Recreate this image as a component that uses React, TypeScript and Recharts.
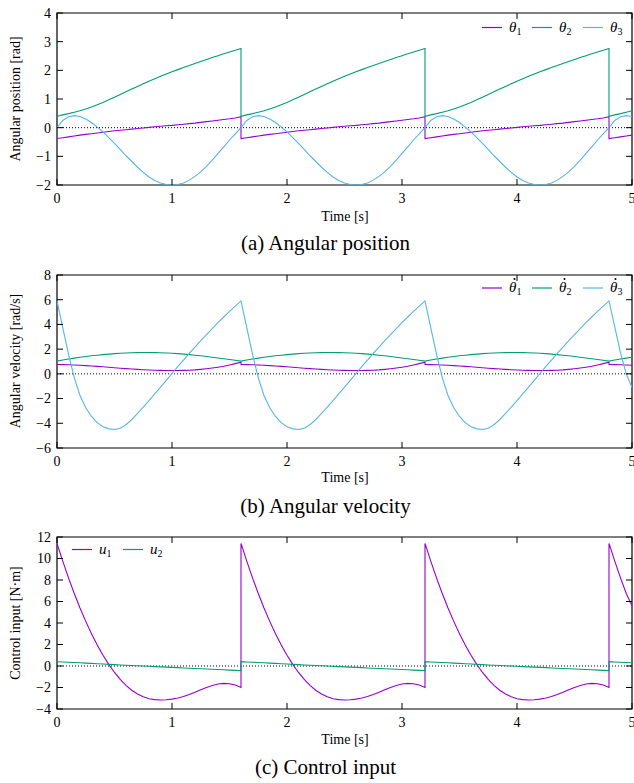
import React from "react";
import {
  LineChart,
  Line,
  XAxis,
  YAxis,
  ReferenceLine,
  ReferenceArea,
} from "recharts";

// time samples (0.05 s); the switching instants 1.6 / 3.2 / 4.8 s appear twice
const time = [
  0, 0.05, 0.1, 0.15, 0.2, 0.25, 0.3, 0.35, 0.4, 0.45, 0.5, 0.55, 0.6, 0.65, 0.7, 0.75, 0.8,
  0.85, 0.9, 0.95, 1.0, 1.05, 1.1, 1.15, 1.2, 1.25, 1.3, 1.35, 1.4, 1.45, 1.5, 1.55, 1.6,
  1.6, 1.65, 1.7, 1.75, 1.8, 1.85, 1.9, 1.95, 2.0, 2.05, 2.1, 2.15, 2.2, 2.25, 2.3, 2.35, 2.4,
  2.45, 2.5, 2.55, 2.6, 2.65, 2.7, 2.75, 2.8, 2.85, 2.9, 2.95, 3.0, 3.05, 3.1, 3.15, 3.2,
  3.2, 3.25, 3.3, 3.35, 3.4, 3.45, 3.5, 3.55, 3.6, 3.65, 3.7, 3.75, 3.8, 3.85, 3.9, 3.95, 4.0,
  4.05, 4.1, 4.15, 4.2, 4.25, 4.3, 4.35, 4.4, 4.45, 4.5, 4.55, 4.6, 4.65, 4.7, 4.75, 4.8,
  4.8, 4.85, 4.9, 4.95, 5.0,
];
const xTicks = [0, 1, 2, 3, 4, 5];

// (a) angular position [rad]
const theta1 = [
  -0.38, -0.35, -0.32, -0.29, -0.26, -0.235, -0.21, -0.185, -0.16, -0.135, -0.11, -0.09, -0.07, -0.05, -0.03, -0.01, 0.01,
  0.03, 0.05, 0.065, 0.08, 0.1, 0.12, 0.14, 0.16, 0.185, 0.21, 0.235, 0.26, 0.285, 0.31, 0.34, 0.38,
  -0.38, -0.35, -0.32, -0.29, -0.26, -0.235, -0.21, -0.185, -0.16, -0.135, -0.11, -0.09, -0.07, -0.05, -0.03, -0.01, 0.01,
  0.03, 0.05, 0.065, 0.08, 0.1, 0.12, 0.14, 0.16, 0.185, 0.21, 0.235, 0.26, 0.285, 0.31, 0.34, 0.38,
  -0.38, -0.35, -0.32, -0.29, -0.26, -0.235, -0.21, -0.185, -0.16, -0.135, -0.11, -0.09, -0.07, -0.05, -0.03, -0.01, 0.01,
  0.03, 0.05, 0.065, 0.08, 0.1, 0.12, 0.14, 0.16, 0.185, 0.21, 0.235, 0.26, 0.285, 0.31, 0.34, 0.38,
  -0.38, -0.35, -0.32, -0.29, -0.26,
];
const theta2 = [
  0.4, 0.445, 0.49, 0.54, 0.59, 0.65, 0.72, 0.8, 0.88, 0.97, 1.06, 1.155, 1.25, 1.345, 1.44, 1.53, 1.62,
  1.705, 1.79, 1.87, 1.95, 2.025, 2.1, 2.17, 2.24, 2.31, 2.38, 2.445, 2.51, 2.575, 2.64, 2.7, 2.76,
  0.4, 0.445, 0.49, 0.54, 0.59, 0.65, 0.72, 0.8, 0.88, 0.97, 1.06, 1.155, 1.25, 1.345, 1.44, 1.53, 1.62,
  1.705, 1.79, 1.87, 1.95, 2.025, 2.1, 2.17, 2.24, 2.31, 2.38, 2.445, 2.51, 2.575, 2.64, 2.7, 2.76,
  0.4, 0.445, 0.49, 0.54, 0.59, 0.65, 0.72, 0.8, 0.88, 0.97, 1.06, 1.155, 1.25, 1.345, 1.44, 1.53, 1.62,
  1.705, 1.79, 1.87, 1.95, 2.025, 2.1, 2.17, 2.24, 2.31, 2.38, 2.445, 2.51, 2.575, 2.64, 2.7, 2.76,
  0.4, 0.445, 0.49, 0.54, 0.59,
];
const theta3 = [
  0.0, 0.25, 0.38, 0.42, 0.39, 0.3, 0.18, 0.02, -0.15, -0.35, -0.55, -0.76, -0.98, -1.18, -1.38, -1.56, -1.72,
  -1.84, -1.93, -1.98, -2.0, -1.98, -1.93, -1.83, -1.7, -1.54, -1.35, -1.13, -0.9, -0.67, -0.43, -0.22, 0.0,
  0.0, 0.25, 0.38, 0.42, 0.39, 0.3, 0.18, 0.02, -0.15, -0.35, -0.55, -0.76, -0.98, -1.18, -1.38, -1.56, -1.72,
  -1.84, -1.93, -1.98, -2.0, -1.98, -1.93, -1.83, -1.7, -1.54, -1.35, -1.13, -0.9, -0.67, -0.43, -0.22, 0.0,
  0.0, 0.25, 0.38, 0.42, 0.39, 0.3, 0.18, 0.02, -0.15, -0.35, -0.55, -0.76, -0.98, -1.18, -1.38, -1.56, -1.72,
  -1.84, -1.93, -1.98, -2.0, -1.98, -1.93, -1.83, -1.7, -1.54, -1.35, -1.13, -0.9, -0.67, -0.43, -0.22, 0.0,
  0.0, 0.25, 0.38, 0.42, 0.39,
];
const posTicks = [-2, -1, 0, 1, 2, 3, 4];

// (b) angular velocity [rad/s]
const dtheta1 = [
  0.76, 0.75, 0.74, 0.72, 0.7, 0.67, 0.64, 0.605, 0.57, 0.53, 0.49, 0.455, 0.42, 0.39, 0.36, 0.335, 0.31,
  0.295, 0.28, 0.272, 0.27, 0.272, 0.28, 0.295, 0.32, 0.36, 0.41, 0.47, 0.54, 0.62, 0.72, 0.83, 0.95,
  0.76, 0.75, 0.74, 0.72, 0.7, 0.67, 0.64, 0.605, 0.57, 0.53, 0.49, 0.455, 0.42, 0.39, 0.36, 0.335, 0.31,
  0.295, 0.28, 0.272, 0.27, 0.272, 0.28, 0.295, 0.32, 0.36, 0.41, 0.47, 0.54, 0.62, 0.72, 0.83, 0.95,
  0.76, 0.75, 0.74, 0.72, 0.7, 0.67, 0.64, 0.605, 0.57, 0.53, 0.49, 0.455, 0.42, 0.39, 0.36, 0.335, 0.31,
  0.295, 0.28, 0.272, 0.27, 0.272, 0.28, 0.295, 0.32, 0.36, 0.41, 0.47, 0.54, 0.62, 0.72, 0.83, 0.95,
  0.76, 0.75, 0.74, 0.72, 0.7,
];
const dtheta2 = [
  1.03, 1.12, 1.2, 1.27, 1.34, 1.4, 1.46, 1.51, 1.56, 1.6, 1.64, 1.67, 1.69, 1.71, 1.72, 1.73, 1.73,
  1.72, 1.71, 1.69, 1.67, 1.64, 1.6, 1.56, 1.51, 1.46, 1.4, 1.34, 1.28, 1.22, 1.16, 1.1, 1.03,
  1.03, 1.12, 1.2, 1.27, 1.34, 1.4, 1.46, 1.51, 1.56, 1.6, 1.64, 1.67, 1.69, 1.71, 1.72, 1.73, 1.73,
  1.72, 1.71, 1.69, 1.67, 1.64, 1.6, 1.56, 1.51, 1.46, 1.4, 1.34, 1.28, 1.22, 1.16, 1.1, 1.03,
  1.03, 1.12, 1.2, 1.27, 1.34, 1.4, 1.46, 1.51, 1.56, 1.6, 1.64, 1.67, 1.69, 1.71, 1.72, 1.73, 1.73,
  1.72, 1.71, 1.69, 1.67, 1.64, 1.6, 1.56, 1.51, 1.46, 1.4, 1.34, 1.28, 1.22, 1.16, 1.1, 1.03,
  1.03, 1.12, 1.2, 1.27, 1.34,
];
const dtheta3 = [
  5.9, 3.75, 1.6, -0.3, -1.75, -2.75, -3.45, -3.95, -4.28, -4.45, -4.5, -4.4, -4.12, -3.7, -3.2, -2.7, -2.17,
  -1.62, -1.07, -0.52, 0.03, 0.58, 1.12, 1.65, 2.17, 2.68, 3.18, 3.67, 4.14, 4.6, 5.05, 5.48, 5.9,
  5.9, 3.75, 1.6, -0.3, -1.75, -2.75, -3.45, -3.95, -4.28, -4.45, -4.5, -4.4, -4.12, -3.7, -3.2, -2.7, -2.17,
  -1.62, -1.07, -0.52, 0.03, 0.58, 1.12, 1.65, 2.17, 2.68, 3.18, 3.67, 4.14, 4.6, 5.05, 5.48, 5.9,
  5.9, 3.75, 1.6, -0.3, -1.75, -2.75, -3.45, -3.95, -4.28, -4.45, -4.5, -4.4, -4.12, -3.7, -3.2, -2.7, -2.17,
  -1.62, -1.07, -0.52, 0.03, 0.58, 1.12, 1.65, 2.17, 2.68, 3.18, 3.67, 4.14, 4.6, 5.05, 5.48, 5.9,
  5.9, 3.8, 1.7, 0.0, -1.1,
];
const velTicks = [-6, -4, -2, 0, 2, 4, 6, 8];

// (c) control input [N·m]
const u1 = [
  11.4, 9.75, 8.2, 6.75, 5.4, 4.15, 3.0, 1.95, 1.0, 0.15, -0.6, -1.25, -1.8, -2.25, -2.6, -2.87, -3.05,
  -3.13, -3.16, -3.14, -3.08, -2.98, -2.84, -2.66, -2.45, -2.22, -2.0, -1.82, -1.68, -1.62, -1.65, -1.76, -2.0,
  11.4, 9.75, 8.2, 6.75, 5.4, 4.15, 3.0, 1.95, 1.0, 0.15, -0.6, -1.25, -1.8, -2.25, -2.6, -2.87, -3.05,
  -3.13, -3.16, -3.14, -3.08, -2.98, -2.84, -2.66, -2.45, -2.22, -2.0, -1.82, -1.68, -1.62, -1.65, -1.76, -2.0,
  11.4, 9.75, 8.2, 6.75, 5.4, 4.15, 3.0, 1.95, 1.0, 0.15, -0.6, -1.25, -1.8, -2.25, -2.6, -2.87, -3.05,
  -3.13, -3.16, -3.14, -3.08, -2.98, -2.84, -2.66, -2.45, -2.22, -2.0, -1.82, -1.68, -1.62, -1.65, -1.76, -2.0,
  11.4, 9.75, 8.2, 6.75, 5.6,
];
const u2 = [
  0.4, 0.375, 0.35, 0.325, 0.3, 0.27, 0.24, 0.21, 0.18, 0.155, 0.13, 0.1, 0.07, 0.045, 0.02, -0.005, -0.03,
  -0.055, -0.08, -0.105, -0.13, -0.155, -0.18, -0.205, -0.23, -0.255, -0.28, -0.305, -0.33, -0.355, -0.38, -0.405, -0.43,
  0.4, 0.375, 0.35, 0.325, 0.3, 0.27, 0.24, 0.21, 0.18, 0.155, 0.13, 0.1, 0.07, 0.045, 0.02, -0.005, -0.03,
  -0.055, -0.08, -0.105, -0.13, -0.155, -0.18, -0.205, -0.23, -0.255, -0.28, -0.305, -0.33, -0.355, -0.38, -0.405, -0.43,
  0.4, 0.375, 0.35, 0.325, 0.3, 0.27, 0.24, 0.21, 0.18, 0.155, 0.13, 0.1, 0.07, 0.045, 0.02, -0.005, -0.03,
  -0.055, -0.08, -0.105, -0.13, -0.155, -0.18, -0.205, -0.23, -0.255, -0.28, -0.305, -0.33, -0.355, -0.38, -0.405, -0.43,
  0.4, 0.375, 0.35, 0.325, 0.3,
];
const ctrlTicks = [-4, -2, 0, 2, 4, 6, 8, 10, 12];

const PURPLE = "#9400d3";
const GREEN = "#009e73";
const BLUE = "#56b4e9";
const FONT = '"Liberation Serif", "Times New Roman", serif';

const CHART_W = 634;
const PLOT_LEFT = 57;
const PLOT_RIGHT = 632;
const TOP_PAD = 10;
const AXIS_H = 30;

type Series = { key: string; values: number[]; color: string };

const fmt = (v: number) => String(v).replace("-", "\u2212");

const Panel = ({
  plotTop,
  plotH,
  series,
  domain,
  ticks,
}: {
  plotTop: number;
  plotH: number;
  series: Series[];
  domain: [number, number];
  ticks: number[];
}) => {
  const rows = time.map((t, i) => {
    const r: Record<string, number> = { t };
    series.forEach((s) => (r[s.key] = s.values[i]));
    return r;
  });
  const bottom = TOP_PAD + plotH;

  // ticks point inwards, on both sides of the frame
  const XTick = (p: any) => (
    <g>
      <line x1={p.x} x2={p.x} y1={bottom} y2={bottom - 6} stroke="#000" />
      <line x1={p.x} x2={p.x} y1={TOP_PAD} y2={TOP_PAD + 6} stroke="#000" />
      <text
        x={p.x}
        y={bottom + 8}
        dy="0.71em"
        textAnchor="middle"
        fontSize={14}
        fontFamily={FONT}
        fill="#000"
      >
        {p.payload.value}
      </text>
    </g>
  );

  const YTick = (p: any) => (
    <g>
      <line x1={PLOT_LEFT} x2={PLOT_LEFT + 6} y1={p.y} y2={p.y} stroke="#000" />
      <line x1={PLOT_RIGHT - 6} x2={PLOT_RIGHT} y1={p.y} y2={p.y} stroke="#000" />
      <text
        x={PLOT_LEFT - 6}
        y={p.y}
        dy="0.35em"
        textAnchor="end"
        fontSize={14}
        fontFamily={FONT}
        fill="#000"
      >
        {fmt(p.payload.value)}
      </text>
    </g>
  );

  return (
    <div style={{ position: "absolute", left: 0, top: plotTop - TOP_PAD }}>
      <LineChart
        width={CHART_W}
        height={TOP_PAD + plotH + AXIS_H}
        data={rows}
        margin={{ top: TOP_PAD, right: CHART_W - PLOT_RIGHT, left: 0, bottom: 0 }}
      >
        <XAxis
          dataKey="t"
          type="number"
          domain={[0, 5]}
          ticks={xTicks}
          interval={0}
          height={AXIS_H}
          axisLine={false}
          tickLine={false}
          tick={XTick}
          allowDataOverflow
        />
        <YAxis
          type="number"
          domain={domain}
          ticks={ticks}
          interval={0}
          width={PLOT_LEFT}
          axisLine={false}
          tickLine={false}
          tick={YTick}
          allowDataOverflow
        />
        <ReferenceLine y={0} stroke="#000" strokeWidth={1} strokeDasharray="1 2" />
        {series.map((s) => (
          <Line
            key={s.key}
            dataKey={s.key}
            type="linear"
            stroke={s.color}
            strokeWidth={1.1}
            dot={false}
            isAnimationActive={false}
          />
        ))}
        <ReferenceArea
          x1={0}
          x2={5}
          y1={domain[0]}
          y2={domain[1]}
          fill="none"
          stroke="#000"
          strokeWidth={1.2}
        />
      </LineChart>
    </div>
  );
};

const LegendItem = ({
  x,
  y,
  color,
  base,
  sub,
  dot,
}: {
  x: number;
  y: number;
  color: string;
  base: string;
  sub: string;
  dot?: boolean;
}) => (
  <g>
    <line x1={x} x2={x + 20} y1={y} y2={y} stroke={color} strokeWidth={1.2} />
    <text x={x + 27} y={y + 4} fontSize={15} fontFamily={FONT} fontStyle="italic" fill="#000">
      {base}
      <tspan dy={3} fontSize={10} fontStyle="normal">
        {sub}
      </tspan>
    </text>
    {dot && <circle cx={x + 32.5} cy={y - 9} r={1} fill="#000" />}
  </g>
);

const App: React.FC = () => {
  const label = { fontSize: 14, fontFamily: FONT, fill: "#000" };
  const caption = { fontSize: 21, fontFamily: FONT, fill: "#000" };
  return (
    <div
      style={{
        position: "absolute",
        left: 0,
        top: 0,
        width: 634,
        height: 783,
        background: "#fff",
        overflow: "hidden",
      }}
    >
      <Panel
        plotTop={13}
        plotH={172}
        domain={[-2, 4]}
        ticks={posTicks}
        series={[
          { key: "th1", values: theta1, color: PURPLE },
          { key: "th2", values: theta2, color: GREEN },
          { key: "th3", values: theta3, color: BLUE },
        ]}
      />
      <Panel
        plotTop={275}
        plotH={173}
        domain={[-6, 8]}
        ticks={velTicks}
        series={[
          { key: "dth1", values: dtheta1, color: PURPLE },
          { key: "dth2", values: dtheta2, color: GREEN },
          { key: "dth3", values: dtheta3, color: BLUE },
        ]}
      />
      <Panel
        plotTop={537}
        plotH={172}
        domain={[-4, 12]}
        ticks={ctrlTicks}
        series={[
          { key: "u1", values: u1, color: PURPLE },
          { key: "u2", values: u2, color: GREEN },
        ]}
      />

      <svg
        width={634}
        height={783}
        style={{ position: "absolute", left: 0, top: 0, pointerEvents: "none" }}
      >
        {/* axis titles */}
        <text {...label} x={19.5} y={99} textAnchor="middle" transform="rotate(-90 19.5 99)">
          Angular position [rad]
        </text>
        <text {...label} x={19.5} y={361} textAnchor="middle" transform="rotate(-90 19.5 361)">
          Angular velocity [rad/s]
        </text>
        <text {...label} x={19.5} y={623} textAnchor="middle" transform="rotate(-90 19.5 623)">
          Control input [N·m]
        </text>
        <text {...label} x={345} y={221} textAnchor="middle">Time [s]</text>
        <text {...label} x={345} y={482} textAnchor="middle">Time [s]</text>
        <text {...label} x={345} y={744} textAnchor="middle">Time [s]</text>

        {/* captions */}
        <text {...caption} x={325.5} y={250} textAnchor="middle">(a) Angular position</text>
        <text {...caption} x={325.5} y={513} textAnchor="middle">(b) Angular velocity</text>
        <text {...caption} x={325.5} y={774} textAnchor="middle">(c) Control input</text>

        {/* legends */}
        <LegendItem x={482} y={27.5} color={PURPLE} base="θ" sub="1" />
        <LegendItem x={532} y={27.5} color={GREEN} base="θ" sub="2" />
        <LegendItem x={583} y={27.5} color={BLUE} base="θ" sub="3" />
        <LegendItem x={482} y={288} color={PURPLE} base="θ" sub="1" dot />
        <LegendItem x={532} y={288} color={GREEN} base="θ" sub="2" dot />
        <LegendItem x={583} y={288} color={BLUE} base="θ" sub="3" dot />
        <LegendItem x={72} y={549.5} color={PURPLE} base="u" sub="1" />
        <LegendItem x={123} y={549.5} color={GREEN} base="u" sub="2" />
      </svg>
    </div>
  );
};

export default App;
